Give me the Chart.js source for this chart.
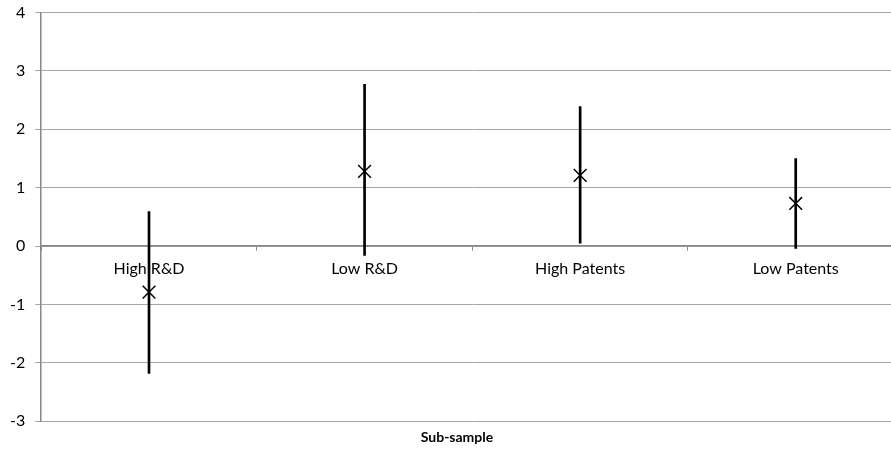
<!DOCTYPE html>
<html>
<head>
<meta charset="utf-8">
<script src="https://cdn.jsdelivr.net/npm/chart.js@4/dist/chart.umd.min.js"></script>
<style>
  html, body { margin: 0; padding: 0; background: #fff; overflow: hidden; }
  #wrap { width: 914px; height: 457px; position: relative; top: -7px; }
</style>
</head>
<body>
<div id="wrap"><canvas id="chart"></canvas></div>
<script>
// sub-samples along the x axis
const categories = ['High R&D', 'Low R&D', 'High Patents', 'Low Patents'];
// point estimates (the x markers)
const estimates = [-0.79, 1.28, 1.21, 0.73];
// confidence interval ends (the vertical bars)
const lowerBounds = [-2.18, -0.16, 0.05, -0.04];
const upperBounds = [0.59, 2.77, 2.39, 1.50];
// y axis range
const yMin = -3;
const yMax = 4;

const intervals = categories.map((c, i) => [lowerBounds[i], upperBounds[i]]);

const ctx = document.getElementById('chart');
new Chart(ctx, {
    data: {
        labels: categories,
        datasets: [
            {
                type: 'line',
                label: 'Estimate',
                data: estimates,
                showLine: false,
                pointStyle: 'crossRot',
                pointRadius: 9,
                pointBorderColor: '#000',
                pointBorderWidth: 1.5,
                order: 0
            },
            {
                type: 'bar',
                label: 'Interval',
                data: intervals,
                backgroundColor: '#000',
                borderWidth: 0,
                barThickness: 2,
                order: 1
            }
        ]
    },
    options: {
        responsive: true,
        maintainAspectRatio: false,
        animation: false,
        layout: { padding: { top: -7, left: 0, right: 0, bottom: 1 } },
        scales: {
            x: {
                type: 'category',
                position: { y: 0 },
                offset: true,
                grid: {
                    offset: true,
                    drawOnChartArea: false,
                    drawTicks: true,
                    tickLength: 4,
                    color: '#868686'
                },
                border: { display: true, color: '#868686', width: 1.5 },
                ticks: {
                    color: '#000',
                    padding: 9,
                    maxRotation: 0,
                    font: { family: 'Lato', size: 16 }
                }
            },
            y: {
                min: yMin,
                max: yMax,
                ticks: {
                    stepSize: 1,
                    color: '#000',
                    padding: 10,
                    font: { family: 'Lato', size: 16 }
                },
                grid: {
                    color: '#a6a6a6',
                    tickLength: 6,
                    drawTicks: true
                },
                border: { display: true, color: '#868686', width: 1.5 }
            }
        },
        plugins: {
            legend: { display: false },
            tooltip: { enabled: false },
            title: {
                display: true,
                position: 'bottom',
                text: 'Sub-sample',
                color: '#000',
                font: { family: 'Lato', size: 14, weight: 'bold' },
                padding: { top: 8, bottom: 3 }
            }
        }
    }
});
</script>
</body>
</html>
